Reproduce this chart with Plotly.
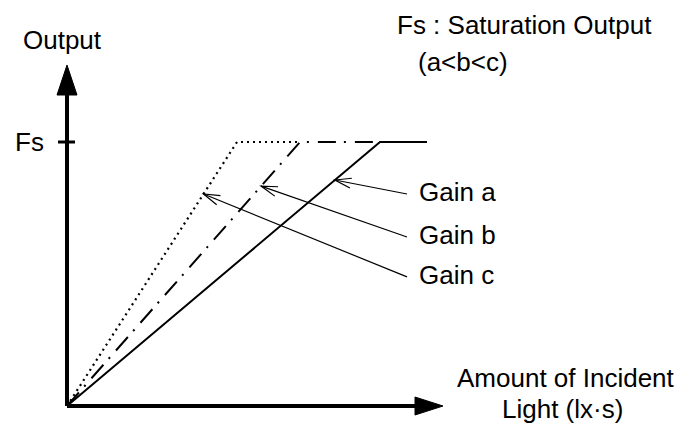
import math

import plotly.graph_objects as go

# saturation output level and where each gain curve saturates / ends
FS = 1.0
light_a = [0.0, 3.13, 3.60]
out_a = [0.0, FS, FS]
light_b = [0.0, 2.33, 3.13]
out_b = [0.0, FS, FS]
light_c = [0.0, 1.70, 2.33]
out_c = [0.0, FS, FS]

gain_labels = ["Gain a", "Gain b", "Gain c"]
gain_sat = [3.13, 2.33, 1.70]          # light amount where each gain hits Fs
pointer_out = [0.856, 0.833, 0.803]    # output level the leader arrow points at
label_light = 3.40
label_out = [0.803, 0.640, 0.489]

# pixel geometry of the drawing (683x426 canvas, origin at 67,406)
X0_PX, Y0_PX = 67, 406
PX_X, PX_Y = 100.0, 264.0
W, H = 683, 426
FONT = dict(family="Arial, 'Liberation Sans', sans-serif", size=26, color="black")


def px_x(p):
    return (p - X0_PX) / PX_X


def px_y(p):
    return (Y0_PX - p) / PX_Y


fig = go.Figure()
fig.add_trace(go.Scatter(x=light_c, y=out_c, mode="lines",
                         line=dict(color="black", width=2.2, dash="2px,4px")))
fig.add_trace(go.Scatter(x=light_b, y=out_b, mode="lines",
                         line=dict(color="black", width=2, dash="18px,8px,2px,9px")))
fig.add_trace(go.Scatter(x=light_a, y=out_a, mode="lines",
                         line=dict(color="black", width=2)))

shapes = []
# axes with filled arrowheads
y_tip, x_tip = px_y(65), px_x(443)
shapes.append(dict(type="line", x0=0, y0=0, x1=0, y1=px_y(92), line=dict(color="black", width=4)))
shapes.append(dict(type="path", fillcolor="black", line=dict(color="black", width=1),
                   path=f"M {px_x(57)},{px_y(95)} L 0,{y_tip} L {px_x(77)},{px_y(95)} Z"))
shapes.append(dict(type="line", x0=0, y0=0, x1=px_x(418), y1=0, line=dict(color="black", width=4)))
shapes.append(dict(type="path", fillcolor="black", line=dict(color="black", width=1),
                   path=f"M {px_x(415)},{px_y(397)} L {x_tip},0 L {px_x(415)},{px_y(415)} Z"))
# Fs tick
shapes.append(dict(type="line", x0=px_x(58), x1=px_x(75), y0=FS, y1=FS, line=dict(color="black", width=3)))

# leader arrows with open heads
for sat, yo, ly in zip(gain_sat, pointer_out, label_out):
    tx = yo * sat
    shapes.append(dict(type="line", x0=label_light, y0=ly, x1=tx, y1=yo, line=dict(color="black", width=1.2)))
    ux, uy = (label_light - tx) * PX_X, (ly - yo) * PX_Y
    n = math.hypot(ux, uy)
    ux, uy = ux / n, uy / n
    pts = []
    for s in (1, -1):
        a = math.radians(17) * s
        rx = ux * math.cos(a) - uy * math.sin(a)
        ry = ux * math.sin(a) + uy * math.cos(a)
        pts.append((tx + 17 * rx / PX_X, yo + 17 * ry / PX_Y))
    shapes.append(dict(type="path", line=dict(color="black", width=1.2),
                       path=f"M {pts[0][0]},{pts[0][1]} L {tx},{yo} L {pts[1][0]},{pts[1][1]}"))

annotations = [
    dict(x=px_x(62), y=px_y(40), text="Output"),
    dict(x=px_x(29), y=FS, text="Fs"),
    dict(x=px_x(524), y=px_y(25), text="Fs : Saturation Output"),
    dict(x=px_x(463), y=px_y(62), text="(a<b<c)"),
    dict(x=px_x(566), y=px_y(378), text="Amount of Incident"),
    dict(x=px_x(562), y=px_y(409), text="Light (lx·s)"),
]
for lab, ly in zip(gain_labels, label_out):
    annotations.append(dict(x=px_x(417), y=ly + 0.007, text=lab, xanchor="left"))
for a in annotations:
    a.setdefault("xanchor", "center")
    a.update(yanchor="middle", showarrow=False, font=FONT)

fig.update_layout(
    width=W, height=H,
    margin=dict(l=0, r=0, t=0, b=0),
    paper_bgcolor="white", plot_bgcolor="white",
    showlegend=False,
    xaxis=dict(range=[px_x(0), px_x(W)], visible=False, fixedrange=True),
    yaxis=dict(range=[px_y(H), px_y(0)], visible=False, fixedrange=True),
    shapes=shapes,
    annotations=annotations,
)

# the page body has a default 8px margin; drop it so the figure sits at 0,0
fig.write_html("out.html", config={"displayModeBar": False},
               post_script="document.body.style.margin='0';")
